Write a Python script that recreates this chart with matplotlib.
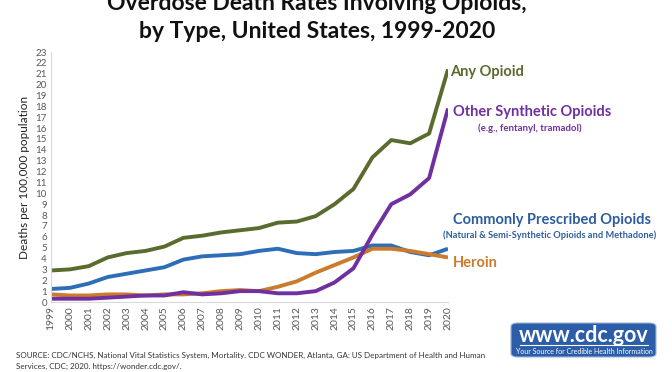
import matplotlib
matplotlib.use("Agg")
import matplotlib.pyplot as plt
from matplotlib.patches import FancyBboxPatch

years = list(range(1999, 2021))
any_opioid = [2.9, 3.0, 3.3, 4.1, 4.5, 4.7, 5.1, 5.9, 6.1, 6.4, 6.6, 6.8, 7.3, 7.4, 7.9, 9.0, 10.4, 13.3, 14.9, 14.6, 15.5, 21.4]
other_synth = [0.3, 0.3, 0.3, 0.4, 0.5, 0.6, 0.6, 0.9, 0.7, 0.8, 1.0, 1.0, 0.8, 0.8, 1.0, 1.8, 3.1, 6.2, 9.0, 9.9, 11.4, 17.8]
prescribed = [1.2, 1.3, 1.7, 2.3, 2.6, 2.9, 3.2, 3.9, 4.2, 4.3, 4.4, 4.7, 4.9, 4.5, 4.4, 4.6, 4.7, 5.2, 5.2, 4.6, 4.3, 4.9]
heroin = [0.7, 0.6, 0.6, 0.7, 0.7, 0.6, 0.7, 0.7, 0.8, 1.0, 1.1, 1.0, 1.4, 1.9, 2.7, 3.4, 4.1, 4.9, 4.9, 4.7, 4.4, 4.1]
y_ticks = list(range(0, 24))

c_any = "#5A6B2E"
c_syn = "#7030A0"
c_pre = "#2E6DB8"
c_her = "#CC7A2C"

plt.rcParams['font.family'] = ['Lato', 'DejaVu Sans']

fig = plt.figure(figsize=(6.72, 3.72), dpi=100)
ax = fig.add_axes([51/672, 1 - 302/372, (448 - 51)/672, (302 - 52)/372])

ax.plot(years, prescribed, color=c_pre, lw=2.8, solid_capstyle='butt')
ax.plot(years, heroin, color=c_her, lw=2.8, solid_capstyle='butt')
ax.plot(years, other_synth, color=c_syn, lw=2.8, solid_capstyle='butt')
ax.plot(years, any_opioid, color=c_any, lw=2.8, solid_capstyle='butt')

ax.set_xlim(1999, 2020)
ax.set_ylim(0, 23)
ax.set_yticks(y_ticks)
ax.set_yticklabels([str(t) for t in y_ticks], fontsize=7, color="#595959")
ax.set_xticks(years)
ax.set_xticklabels([str(y) for y in years], rotation=90, fontsize=7.5, color="#595959")
ax.tick_params(axis='both', length=0, pad=3)
for s in ['top', 'right']:
    ax.spines[s].set_visible(False)
for s in ['left', 'bottom']:
    ax.spines[s].set_color("#D9D9D9")
    ax.spines[s].set_linewidth(0.8)
ax.set_ylabel("Deaths per 100,000 population", fontsize=8.5, color="#222222", labelpad=4)

fig.text(0.472, 1 - 4/372, "Overdose Death Rates Involving Opioids,", ha='center', va='center',
         fontsize=16.5, fontweight='bold', color="#111111")
fig.text(0.472, 1 - 31/372, "by Type, United States, 1999-2020", ha='center', va='center',
         fontsize=16.5, fontweight='bold', color="#111111")

def ftxt(x, y, s, **kw):
    fig.text(x/672, 1 - y/372, s, va='center', **kw)

ftxt(450, 72, "Any Opioid", fontsize=10.5, fontweight='bold', color=c_any)
ftxt(453, 112, "Other Synthetic Opioids", fontsize=10.5, fontweight='bold', color=c_syn)
ftxt(478, 128, "(e.g., fentanyl, tramadol)", fontsize=6.9, fontweight='bold', color=c_syn)
ftxt(453, 220, "Commonly Prescribed Opioids", fontsize=10.5, fontweight='bold', color="#2F5C9E")
ftxt(443, 235, "(Natural & Semi-Synthetic Opioids and Methadone)", fontsize=6.7, fontweight='bold', color="#2F5C9E")
ftxt(453, 263, "Heroin", fontsize=10.5, fontweight='bold', color=c_her)

ftxt(16, 355, "SOURCE: CDC/NCHS, National Vital Statistics System, Mortality. CDC WONDER, Atlanta, GA: US Department of Health and Human",
     fontsize=5.75, color="#333333")
ftxt(16, 366, "Services, CDC; 2020. https://wonder.cdc.gov/.", fontsize=5.75, color="#333333")

# CDC logo box
box = FancyBboxPatch((511/672, 1 - 357/372), (656 - 511)/672, (357 - 323)/372,
                     boxstyle="round,pad=0,rounding_size=0.01", transform=fig.transFigure,
                     facecolor="#2B5DA8", edgecolor="#9DB4D8", lw=0.8)
fig.add_artist(box)
ftxt(584, 335, "www.cdc.gov", ha='center', fontsize=15.5, fontweight='bold', color='white')
fig.add_artist(plt.Line2D([520/672, 648/672], [1 - 345/372, 1 - 345/372], transform=fig.transFigure,
                          color='white', lw=0.8))
ftxt(584, 351, "Your Source for Credible Health Information", ha='center', fontsize=5, color='white')

fig.savefig("out.png", dpi=100)
